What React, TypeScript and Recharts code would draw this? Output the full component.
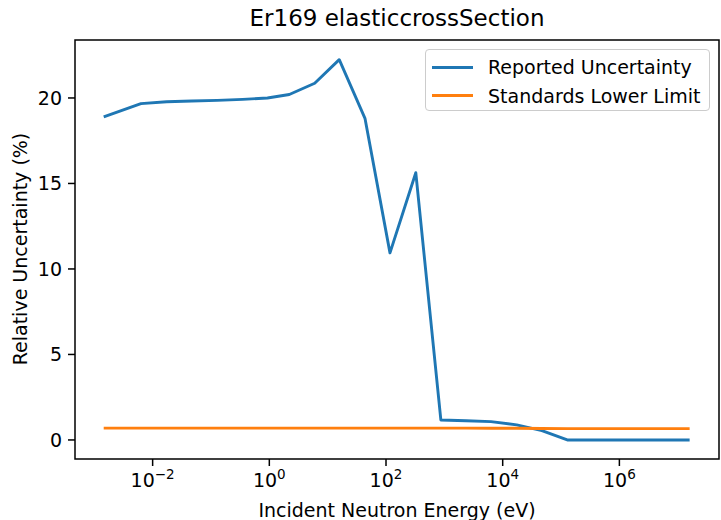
import { LineChart, Line, XAxis, YAxis, Legend, Label, ReferenceArea } from 'recharts'

// energies in eV
const ENERGY_EV = [
  0.00145, 0.0063, 0.0174, 0.047, 0.128, 0.35, 0.93, 2.2, 6.0, 15.8, 43.6,
  117, 324, 871, 2350, 6300, 17400, 47000, 128000, 1.2e6, 1.6e7,
]
const REPORTED = [
  18.89, 19.67, 19.78, 19.82, 19.86, 19.92, 20.0, 20.2, 20.86, 22.24, 18.81,
  10.94, 15.63, 1.17, 1.12, 1.07, 0.88, 0.55, 0.0, 0.0, 0.0,
]
const STD_LOWER = [
  0.69, 0.69, 0.69, 0.69, 0.69, 0.69, 0.69, 0.69, 0.69, 0.69, 0.69,
  0.69, 0.69, 0.69, 0.69, 0.68, 0.68, 0.67, 0.66, 0.66, 0.66,
]
const X_TICKS = [1e-2, 1, 1e2, 1e4, 1e6]
const Y_TICKS = [0, 5, 10, 15, 20]
const X_DOMAIN = [4.67e-4, 5.1e7]
const Y_DOMAIN = [-1.114, 23.39]

const BLUE = '#1f77b4'
const ORANGE = '#ff7f0e'
const FONT = '"DejaVu Sans", sans-serif'

const data = ENERGY_EV.map((e, i) => ({ e, rep: REPORTED[i], std: STD_LOWER[i] }))

function PowTick({ x, y, payload }: any) {
  const exp = Math.round(Math.log10(payload.value))
  const sup = exp < 0 ? '\u2212' + Math.abs(exp) : String(exp)
  return (
    <text x={x} y={y + 19} textAnchor="middle" fontFamily={FONT} fontSize={19} fill="#000">
      <tspan>10</tspan>
      <tspan dy={-8} fontSize={13.5}>{sup}</tspan>
    </text>
  )
}

function LegendBox() {
  const rows = [
    { name: 'Reported Uncertainty', color: BLUE },
    { name: 'Standards Lower Limit', color: ORANGE },
  ]
  return (
    <div
      style={{
        width: 285,
        height: 62,
        boxSizing: 'border-box',
        border: '1px solid #cccccc',
        borderRadius: 4,
        background: 'rgba(255,255,255,0.8)',
        paddingTop: 3,
      }}
    >
      {rows.map((r) => (
        <div key={r.name} style={{ display: 'flex', alignItems: 'center', height: 28.5 }}>
          <div style={{ width: 41, height: 3, background: r.color, marginLeft: 6, marginRight: 15 }} />
          <span style={{ fontFamily: FONT, fontSize: 19, color: '#000', whiteSpace: 'nowrap' }}>{r.name}</span>
        </div>
      ))}
    </div>
  )
}

export default function App() {
  return (
    <div style={{ position: 'absolute', left: 0, top: 0, width: 721, height: 520, background: '#fff' }}>
      <div
        style={{
          position: 'absolute',
          left: 75,
          width: 644,
          top: 5,
          textAlign: 'center',
          fontFamily: FONT,
          fontSize: 23,
          color: '#000',
        }}
      >
        Er169 elasticcrossSection
      </div>
      <LineChart width={721} height={520} data={data} margin={{ top: 40, right: 2, bottom: 0, left: 0 }}>
        <XAxis
          dataKey="e"
          type="number"
          scale="log"
          domain={X_DOMAIN}
          allowDataOverflow
          ticks={X_TICKS}
          height={61}
          axisLine={false}
          tickSize={7}
          tickLine={{ stroke: '#000', strokeWidth: 1.5 }}
          tick={<PowTick />}
        >
          <Label
            content={() => (
              <text x={397} y={517} textAnchor="middle" fontFamily={FONT} fontSize={19} fill="#000">
                Incident Neutron Energy (eV)
              </text>
            )}
          />
        </XAxis>
        <YAxis
          type="number"
          domain={Y_DOMAIN}
          allowDataOverflow
          ticks={Y_TICKS}
          width={75}
          axisLine={false}
          tickSize={7}
          tickMargin={6}
          tickLine={{ stroke: '#000', strokeWidth: 1.5 }}
          tick={{ fontFamily: FONT, fontSize: 19, fill: '#000' }}
        >
          <Label
            content={() => (
              <text
                x={27}
                y={249}
                textAnchor="middle"
                transform="rotate(-90 27 249)"
                fontFamily={FONT}
                fontSize={19}
                fill="#000"
              >
                Relative Uncertainty (%)
              </text>
            )}
          />
        </YAxis>
        <ReferenceArea
          x1={X_DOMAIN[0]}
          x2={X_DOMAIN[1]}
          y1={Y_DOMAIN[0]}
          y2={Y_DOMAIN[1]}
          fill="none"
          stroke="#000"
          strokeWidth={1.5}
          ifOverflow="visible"
        />
        <Line
          dataKey="rep"
          stroke={BLUE}
          strokeWidth={2.9}
          dot={false}
          isAnimationActive={false}
          strokeLinejoin="round"
        />
        <Line
          dataKey="std"
          stroke={ORANGE}
          strokeWidth={2.9}
          dot={false}
          isAnimationActive={false}
          strokeLinejoin="round"
        />
        <Legend
          layout="vertical"
          align="center"
          verticalAlign="middle"
          content={() => <LegendBox />}
          wrapperStyle={{ position: 'absolute', left: 425, top: 49, width: 285, height: 62 }}
        />
      </LineChart>
    </div>
  )
}
